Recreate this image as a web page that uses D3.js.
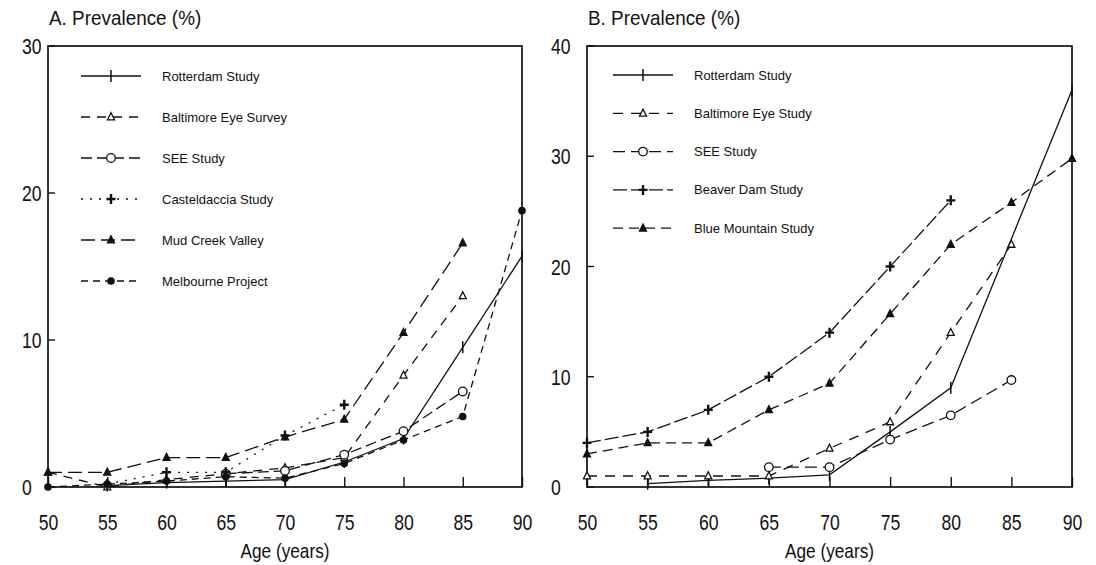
<!DOCTYPE html>
<html>
<head>
<meta charset="utf-8">
<script src="https://cdn.jsdelivr.net/npm/d3@7"></script>
<style>
body { margin: 0; background: #fff; }
text { font-family: "Liberation Sans", Arial, sans-serif; fill: #111; }
</style>
</head>
<body>
<svg width="1096" height="565"></svg>
<script>
// age groups on the x axis, null = no value for that age
var ages = [50, 55, 60, 65, 70, 75, 80, 85, 90];
var xTicks = [50, 55, 60, 65, 70, 75, 80, 85, 90];

// panel A
var yTicksA = [0, 10, 20, 30];
var rotterdamA    = [null, 0.1, 0.3, 0.4, 0.5, 1.7, 3.3, 9.5, 15.7];
var baltimoreA    = [1.0, 0.0, 0.5, 0.9, 1.3, 2.0, 7.6, 13.0, null];
var seeA          = [null, null, null, 0.9, 1.1, 2.2, 3.8, 6.5, null];
var casteldacciaA = [null, 0.2, 1.0, 1.0, 3.5, 5.6, null, null, null];
var mudCreekA     = [1.0, 1.0, 2.0, 2.0, 3.4, 4.6, 10.5, 16.6, null];
var melbourneA    = [0.0, 0.2, 0.4, 0.7, 0.6, 1.6, 3.2, 4.8, 18.8];
var namesA = ['Rotterdam Study', 'Baltimore Eye Survey', 'SEE Study', 'Casteldaccia Study', 'Mud Creek Valley', 'Melbourne Project'];

// panel B
var yTicksB = [0, 10, 20, 30, 40];
var rotterdamB    = [null, 0.3, 0.6, 0.8, 1.1, 5.0, 9.0, null, 36.0];
var baltimoreB    = [1.0, 1.0, 1.0, 1.0, 3.5, 5.9, 14.0, 22.0, null];
var seeB          = [null, null, null, 1.8, 1.8, 4.3, 6.5, 9.7, null];
var beaverDamB    = [4.0, 5.0, 7.0, 10.0, 14.0, 20.0, 26.0, null, null];
var blueMountainB = [3.0, 4.0, 4.0, 7.0, 9.4, 15.7, 22.0, 25.8, 29.8];
var namesB = ['Rotterdam Study', 'Baltimore Eye Study', 'SEE Study', 'Beaver Dam Study', 'Blue Mountain Study'];

var svg = d3.select('svg');

// marker drawing, by type
function drawMarker(g, type, x, y) {
    if (type == 'vtick') {
        g.append('line').attr('x1', x).attr('x2', x).attr('y1', y - 6).attr('y2', y + 6)
            .attr('stroke', '#111').attr('stroke-width', 1.5);
    } else if (type == 'triOpen' || type == 'tri') {
        var s = 7;
        g.append('path')
            .attr('d', 'M' + x + ',' + (y - s * 0.6) + 'L' + (x + s / 2) + ',' + (y + s * 0.4) + 'L' + (x - s / 2) + ',' + (y + s * 0.4) + 'Z')
            .attr('fill', type == 'tri' ? '#111' : '#fff')
            .attr('stroke', '#111').attr('stroke-width', 1.3);
    } else if (type == 'circleOpen') {
        g.append('circle').attr('cx', x).attr('cy', y).attr('r', 4.3)
            .attr('fill', '#fff').attr('stroke', '#111').attr('stroke-width', 1.3);
    } else if (type == 'dot') {
        g.append('circle').attr('cx', x).attr('cy', y).attr('r', 3.8)
            .attr('fill', '#111');
    } else if (type == 'cross') {
        g.append('path')
            .attr('d', 'M' + (x - 4.5) + ',' + y + 'H' + (x + 4.5) + 'M' + x + ',' + (y - 5) + 'V' + (y + 5))
            .attr('stroke', '#111').attr('stroke-width', 2.4);
    }
}

function drawPanel(opt) {
    var g = svg.append('g');
    var x = d3.scaleLinear().domain([50, 90]).range([opt.left, opt.right]);
    var y = d3.scaleLinear().domain([0, opt.yMax]).range([487, 46]);

    // frame
    g.append('rect')
        .attr('x', opt.left).attr('y', y(opt.yMax))
        .attr('width', opt.right - opt.left).attr('height', y(0) - y(opt.yMax))
        .attr('fill', 'none').attr('stroke', '#111').attr('stroke-width', 1.7);

    // x axis, ticks point inwards
    var xa = g.append('g')
        .attr('transform', 'translate(0,' + y(0) + ')')
        .call(d3.axisBottom(x).tickValues(xTicks).tickSizeInner(-10).tickSizeOuter(0).tickPadding(27));
    xa.select('.domain').remove();
    xa.selectAll('line').attr('stroke', '#111').attr('stroke-width', 1.4);
    xa.selectAll('text')
        .attr('transform', 'scale(0.8,1)')
        .style('font-size', '22px')
        .style('font-family', '"Liberation Sans", Arial, sans-serif')
        .attr('fill', '#111');

    // y ticks and labels
    g.selectAll('.ytick').data(opt.yTicks).enter()
        .append('line')
        .attr('x1', opt.left).attr('x2', opt.left + 7)
        .attr('y1', function(d) { return y(d); })
        .attr('y2', function(d) { return y(d); })
        .attr('stroke', '#111').attr('stroke-width', 1.4);

    g.selectAll('.ylab').data(opt.yTicks).enter()
        .append('text')
        .text(function(d) { return d; })
        .attr('transform', function(d) { return 'translate(' + opt.yLabX + ',' + (y(d) + 8) + ') scale(0.8,1)'; })
        .style('font-size', '22px');

    // titles
    g.append('text').text(opt.title)
        .attr('transform', 'translate(' + (opt.left + 1) + ',25) scale(0.9,1)')
        .style('font-size', '21px');
    g.append('text').text('Age (years)')
        .attr('transform', 'translate(' + ((opt.left + opt.right) / 2) + ',558) scale(0.82,1)')
        .attr('text-anchor', 'middle')
        .style('font-size', '21px');

    // series lines
    var line = d3.line()
        .x(function(d) { return x(d.age); })
        .y(function(d) { return y(d.v); });

    opt.series.forEach(function(s, i) {
        var pts = ages.map(function(a, j) { return { age: a, v: s.values[j] }; })
            .filter(function(d) { return d.v != null; });
        g.append('path')
            .attr('d', line(pts))
            .attr('fill', 'none')
            .attr('stroke', '#111')
            .attr('stroke-width', 1.3)
            .attr('stroke-dasharray', s.dash);
        pts.forEach(function(d) {
            drawMarker(g, s.marker, x(d.age), y(d.v));
        });

        // legend entry
        var ly = opt.legY + i * opt.legStep;
        g.append('line')
            .attr('x1', opt.legX).attr('x2', opt.legX + 60)
            .attr('y1', ly).attr('y2', ly)
            .attr('stroke', '#111').attr('stroke-width', 1.3)
            .attr('stroke-dasharray', s.dash);
        drawMarker(g, s.marker, opt.legX + 30, ly);
        g.append('text').text(s.name)
            .attr('x', opt.legX + 81).attr('y', ly + 4.5)
            .style('font-size', '13px');
    });
}

drawPanel({
    left: 48, right: 522, yMax: 30, yTicks: yTicksA, yLabX: 22,
    title: 'A. Prevalence (%)',
    legX: 81, legY: 76, legStep: 41,
    series: [
        { name: namesA[0], values: rotterdamA, marker: 'vtick', dash: null },
        { name: namesA[1], values: baltimoreA, marker: 'triOpen', dash: '9,7' },
        { name: namesA[2], values: seeA, marker: 'circleOpen', dash: '11,5' },
        { name: namesA[3], values: casteldacciaA, marker: 'cross', dash: '2,7' },
        { name: namesA[4], values: mudCreekA, marker: 'tri', dash: '14,6' },
        { name: namesA[5], values: melbourneA, marker: 'dot', dash: '7,5' }
    ]
});

drawPanel({
    left: 587, right: 1072, yMax: 40, yTicks: yTicksB, yLabX: 551,
    title: 'B. Prevalence (%)',
    legX: 613, legY: 75, legStep: 38.3,
    series: [
        { name: namesB[0], values: rotterdamB, marker: 'vtick', dash: null },
        { name: namesB[1], values: baltimoreB, marker: 'triOpen', dash: '10,8' },
        { name: namesB[2], values: seeB, marker: 'circleOpen', dash: '12,6' },
        { name: namesB[3], values: beaverDamB, marker: 'cross', dash: '14,4' },
        { name: namesB[4], values: blueMountainB, marker: 'tri', dash: '10,6' }
    ]
});
</script>
</body>
</html>
